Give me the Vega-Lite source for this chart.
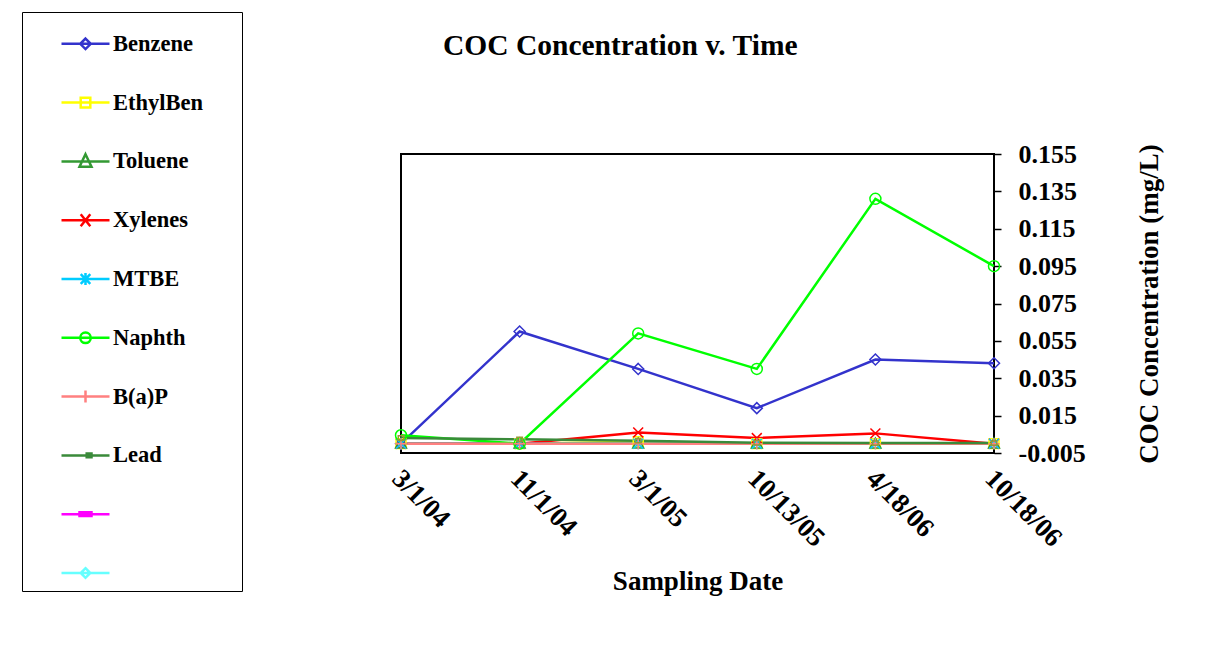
{
  "$schema": "https://vega.github.io/schema/vega-lite/v6.json",
  "width": 593,
  "height": 299,
  "padding": {"left": 21, "top": 11, "right": 5, "bottom": 5},
  "background": "white",
  "title": {"text": "COC Concentration v. Time", "anchor": "start", "frame": "group", "dx": 42, "offset": -50, "font": "Liberation Serif", "fontSize": 29.5, "fontWeight": "bold", "color": "black"},
  "config": {
    "view": {"stroke": "black", "strokeWidth": 2},
    "font": "Liberation Serif",
    "axis": {"labelOverlap": false, "labelFlush": false}
  },
  "data": {
    "values": [
      {"date": "3/1/04", "series": "Benzene", "value": 0},
      {"date": "11/1/04", "series": "Benzene", "value": 0.06},
      {"date": "3/1/05", "series": "Benzene", "value": 0.04},
      {"date": "10/13/05", "series": "Benzene", "value": 0.019},
      {"date": "4/18/06", "series": "Benzene", "value": 0.045},
      {"date": "10/18/06", "series": "Benzene", "value": 0.043},
      {"date": "3/1/04", "series": "EthylBen", "value": 0},
      {"date": "11/1/04", "series": "EthylBen", "value": 0},
      {"date": "3/1/05", "series": "EthylBen", "value": 0.001},
      {"date": "10/13/05", "series": "EthylBen", "value": 0},
      {"date": "4/18/06", "series": "EthylBen", "value": 0},
      {"date": "10/18/06", "series": "EthylBen", "value": 0},
      {"date": "3/1/04", "series": "Toluene", "value": 0},
      {"date": "11/1/04", "series": "Toluene", "value": 0},
      {"date": "3/1/05", "series": "Toluene", "value": 0},
      {"date": "10/13/05", "series": "Toluene", "value": 0},
      {"date": "4/18/06", "series": "Toluene", "value": 0},
      {"date": "10/18/06", "series": "Toluene", "value": 0},
      {"date": "3/1/04", "series": "Xylenes", "value": 0},
      {"date": "11/1/04", "series": "Xylenes", "value": 0},
      {"date": "3/1/05", "series": "Xylenes", "value": 0.006},
      {"date": "10/13/05", "series": "Xylenes", "value": 0.003},
      {"date": "4/18/06", "series": "Xylenes", "value": 0.0055},
      {"date": "10/18/06", "series": "Xylenes", "value": 0},
      {"date": "3/1/04", "series": "MTBE", "value": 0},
      {"date": "11/1/04", "series": "MTBE", "value": 0},
      {"date": "3/1/05", "series": "MTBE", "value": 0},
      {"date": "10/13/05", "series": "MTBE", "value": 0},
      {"date": "4/18/06", "series": "MTBE", "value": 0},
      {"date": "10/18/06", "series": "MTBE", "value": 0},
      {"date": "3/1/04", "series": "Naphth", "value": 0.0045},
      {"date": "11/1/04", "series": "Naphth", "value": 0},
      {"date": "3/1/05", "series": "Naphth", "value": 0.059},
      {"date": "10/13/05", "series": "Naphth", "value": 0.04},
      {"date": "4/18/06", "series": "Naphth", "value": 0.131},
      {"date": "10/18/06", "series": "Naphth", "value": 0.095},
      {"date": "3/1/04", "series": "B(a)P", "value": 0},
      {"date": "11/1/04", "series": "B(a)P", "value": 0},
      {"date": "3/1/05", "series": "B(a)P", "value": 0},
      {"date": "10/13/05", "series": "B(a)P", "value": 0},
      {"date": "4/18/06", "series": "B(a)P", "value": 0},
      {"date": "10/18/06", "series": "B(a)P", "value": 0},
      {"date": "3/1/04", "series": "Lead", "value": 0.003},
      {"date": "11/1/04", "series": "Lead", "value": 0.0023},
      {"date": "3/1/05", "series": "Lead", "value": 0.0016},
      {"date": "10/13/05", "series": "Lead", "value": 0.0005},
      {"date": "4/18/06", "series": "Lead", "value": 0.0003},
      {"date": "10/18/06", "series": "Lead", "value": 0.0003}
    ]
  },
  "encoding": {
    "x": {"field": "date", "type": "ordinal", "sort": ["3/1/04", "11/1/04", "3/1/05", "10/13/05", "4/18/06", "10/18/06"], "scale": {"type": "point", "padding": 0},
      "axis": {"title": "Sampling Date", "labelAngle": 45, "labelAlign": "left", "labelBaseline": "top", "labelFont": "Liberation Serif", "labelFontSize": 27, "labelFontWeight": "bold", "labelColor": "black", "labelPadding": 12, "labelOffset": 4, "labelOverlap": false, "labelFlush": false, "ticks": false, "domain": false, "grid": false, "titleFont": "Liberation Serif", "titleFontSize": 27, "titleFontWeight": "bold", "titleColor": "black", "titlePadding": 17}},
    "y": {"field": "value", "type": "quantitative", "scale": {"domain": [-0.005, 0.155], "nice": false, "zero": false},
      "axis": {"orient": "right", "title": "COC Concentration (mg/L)", "values": [-0.005, 0.015, 0.035, 0.055, 0.075, 0.095, 0.115, 0.135, 0.155], "format": ".3f", "labelExpr": "replace(datum.label, '\u2212', '-')", "labelAlign": "left", "labelFont": "Liberation Serif", "labelFontSize": 26, "labelFontWeight": "bold", "labelColor": "black", "labelPadding": 17, "tickSize": 7, "tickColor": "black", "tickWidth": 1.5, "domain": false, "grid": false, "titleFont": "Liberation Serif", "titleFontSize": 27, "titleFontWeight": "bold", "titleColor": "black", "titleAngle": 270, "titlePadding": 78, "labelOverlap": false, "labelFlush": false}}
  },
  "layer": [
    {
      "mark": {"type": "line", "strokeWidth": 2.5},
      "encoding": {
        "color": {"field": "series", "type": "nominal", "scale": {"domain": ["Benzene", "EthylBen", "Toluene", "Xylenes", "MTBE", "Naphth", "B(a)P", "Lead", " ", "  "], "range": ["#3333cc", "#ffff00", "#339933", "#ff0000", "#00ccff", "#00ff00", "#ff8080", "#3a8a3a", "#ff00ff", "#66ffff"]}, "legend": null}
      }
    },
    {
      "mark": {"type": "point", "filled": false, "size": 121, "strokeWidth": 1.5, "opacity": 1},
      "encoding": {
        "color": {"field": "series", "type": "nominal", "scale": {"domain": ["Benzene", "EthylBen", "Toluene", "Xylenes", "MTBE", "Naphth", "B(a)P", "Lead", " ", "  "], "range": ["#3333cc", "#ffff00", "#339933", "#ff0000", "#00ccff", "#00ff00", "#ff8080", "#999933", "#ff00ff", "#66ffff"]}, "legend": null},
        "shape": {"field": "series", "type": "nominal", "scale": {"domain": ["Benzene", "EthylBen", "Toluene", "Xylenes", "MTBE", "Naphth", "B(a)P", "Lead", " ", "  "], "range": ["M0,-1L1,0L0,1L-1,0Z", "M-0.9,-0.9L0.9,-0.9L0.9,0.9L-0.9,0.9Z", "M0,-1L1,0.8L-1,0.8Z", "M-0.9,-0.9L0.9,0.9M0.9,-0.9L-0.9,0.9", "M-0.9,-0.9L0.9,0.9M0.9,-0.9L-0.9,0.9M0,-1L0,1", "M1,0A1,1,0,1,1,-1,0A1,1,0,1,1,1,0Z", "M-1,0L1,0M0,-1L0,1", "M-0.5,-0.4L0.5,-0.4L0.5,0.4L-0.5,0.4Z", "M-0.8,-0.3L0.8,-0.3L0.8,0.3L-0.8,0.3Z", "M0,-0.8L0.8,0L0,0.8L-0.8,0Z"]}, "legend": null}
      }
    },
    {
      "data": {"values": []},
      "mark": {"type": "point", "filled": false, "strokeWidth": 2.5, "opacity": 1},
      "encoding": {
        "color": {"field": "series", "type": "nominal", "scale": {"domain": ["Benzene", "EthylBen", "Toluene", "Xylenes", "MTBE", "Naphth", "B(a)P", "Lead", " ", "  "], "range": ["#3333cc", "#ffff00", "#339933", "#ff0000", "#00ccff", "#00ff00", "#ff8080", "#3a8a3a", "#ff00ff", "#66ffff"]},
          "legend": {"title": ".", "titleOrient": "right", "titleColor": "white", "titleFontSize": 22, "titlePadding": 26, "orient": "none", "legendX": -379, "legendY": -142, "symbolSize": 2304, "symbolOffset": 31.7, "labelOffset": 2, "rowPadding": 21.8, "padding": 6.3, "strokeColor": "black", "labelFont": "Liberation Serif", "labelFontSize": 22.5, "labelFontWeight": "bold", "labelColor": "black", "labelLimit": 400, "symbolStrokeWidth": 2.5, "encode": {"symbols": {"update": {"size": {"value": 2304}, "strokeWidth": {"value": 2.5}, "fill": {"signal": "datum.value === 'Lead' ? '#999933' : datum.value === ' ' ? '#ff00ff' : datum.value === '  ' ? '#66ffff' : 'transparent'"}}}, "legend": {"update": {"strokeWidth": {"value": 2}}}}}},
        "shape": {"field": "series", "type": "nominal", "scale": {"domain": ["Benzene", "EthylBen", "Toluene", "Xylenes", "MTBE", "Naphth", "B(a)P", "Lead", " ", "  "], "range": ["M-1,0L1,0M0,-0.22L0.22,0L0,0.22L-0.22,0Z", "M-1,0L1,0M-0.2,-0.2L0.2,-0.2L0.2,0.2L-0.2,0.2Z", "M-1,0L1,0M0,-0.3L0.25,0.22L-0.25,0.22Z", "M-1,0L1,0M-0.2,-0.25L0.2,0.25M0.2,-0.25L-0.2,0.25", "M-1,0L1,0M-0.2,-0.2L0.2,0.2M0.2,-0.2L-0.2,0.2M0,-0.25L0,0.25", "M-1,0L1,0M0.22,0A0.22,0.22,0,1,1,-0.22,0A0.22,0.22,0,1,1,0.22,0", "M-1,0L1,0M0,-0.25L0,0.25", "M-1,0L1,0M0.05,-0.08L0.25,-0.08L0.25,0.08L0.05,0.08Z", "M-1,0L1,0M-0.25,-0.08L0.25,-0.08L0.25,0.08L-0.25,0.08Z", "M-1,0L1,0M0,-0.2L0.2,0L0,0.2L-0.2,0Z"]},
          "legend": {"title": ".", "titleOrient": "right", "titleColor": "white", "titleFontSize": 22, "titlePadding": 26, "orient": "none", "legendX": -379, "legendY": -142, "symbolSize": 2304, "symbolOffset": 31.7, "labelOffset": 2, "rowPadding": 21.8, "padding": 6.3, "strokeColor": "black", "labelFont": "Liberation Serif", "labelFontSize": 22.5, "labelFontWeight": "bold", "labelColor": "black", "labelLimit": 400, "symbolStrokeWidth": 2.5, "encode": {"symbols": {"update": {"size": {"value": 2304}, "strokeWidth": {"value": 2.5}, "fill": {"signal": "datum.value === 'Lead' ? '#999933' : datum.value === ' ' ? '#ff00ff' : datum.value === '  ' ? '#66ffff' : 'transparent'"}}}, "legend": {"update": {"strokeWidth": {"value": 2}}}}}}
      }
    }
  ],
  "resolve": {"scale": {"color": "independent", "shape": "independent"}}
}
